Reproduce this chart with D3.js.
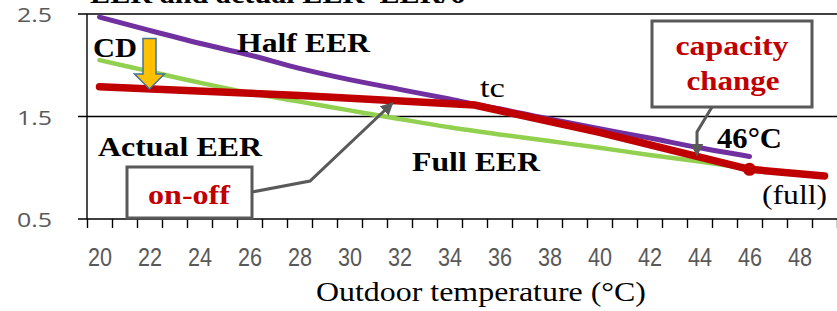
<!DOCTYPE html>
<html>
<head>
<meta charset="utf-8">
<script src="https://cdn.jsdelivr.net/npm/d3@7"></script>
<style>
  body { margin: 0; background: #fff; }
  svg text { font-family: "Liberation Serif", "DejaVu Serif", serif; }
</style>
</head>
<body>
<svg id="chart" width="837" height="311"></svg>
<script>
/* ---------------- data ---------------- */
var categories = d3.range(20, 50);                 // 20 .. 49 degC, one band each
var tickLabels = d3.range(20, 50, 2);              // 20, 22, ... 48
var yTicks = [0.5, 1.5, 2.5];

var halfTemp = [20, 22, 24, 26, 28, 30, 32, 34, 35, 36, 38, 40, 42, 44, 46];
var halfEER  = [2.47, 2.34, 2.215, 2.10, 1.97, 1.86, 1.765, 1.67, 1.62, 1.575, 1.475, 1.38, 1.29, 1.195, 1.11];

var fullTemp = [20, 22, 24, 26, 28, 30, 32, 34, 36, 38, 40, 42, 44, 46];
var fullEER  = [2.05, 1.94, 1.83, 1.73, 1.645, 1.56, 1.475, 1.395, 1.325, 1.26, 1.195, 1.125, 1.06, 0.99];

var actualTemp = [20, 28, 35, 40, 46, 49];
var actualEER  = [1.79, 1.705, 1.612, 1.345, 0.985, 0.92];

var fullPointTemp = 46;

/* ---------------- setup ---------------- */
var svg = d3.select("#chart"),
    plotL = 87, plotR = 837, plotT = 14, plotB = 219;

var x = d3.scaleLinear()
    .domain([categories[0] - 0.5, categories[categories.length - 1] + 0.5])
    .range([plotL, plotR]);
var y = d3.scaleLinear().domain([0.5, 2.5]).range([plotB, plotT]);

function zip(t, v) { return t.map(function (d, i) { return [d, v[i]]; }); }
var actualAt = d3.scaleLinear().domain(actualTemp).range(actualEER);

var grey = "#595959";

// gridlines (black, Excel style)
svg.append("g").selectAll("line").data(yTicks).enter().append("line")
    .attr("x1", plotL - 9).attr("x2", plotR)
    .attr("y1", function (d) { return y(d); }).attr("y2", function (d) { return y(d); })
    .attr("stroke", "#000").attr("stroke-width", 1.4);

// y axis line
svg.append("line").attr("x1", plotL).attr("x2", plotL)
    .attr("y1", plotT).attr("y2", plotB)
    .attr("stroke", "#000").attr("stroke-width", 1.4);

// y tick labels
svg.append("g").selectAll("text").data(yTicks).enter().append("text")
    .attr("x", 52).attr("y", function (d) { return y(d) + 8; })
    .attr("text-anchor", "end")
    .attr("fill", grey)
    .style("font-family", "'Open Sans', 'Liberation Sans', sans-serif")
    .style("font-size", "20px")
    .attr("textLength", 35).attr("lengthAdjust", "spacingAndGlyphs")
    .text(function (d) { return d3.format(".1f")(d); });

// x tick marks at band edges
var xTicks = d3.axisBottom(x)
    .tickValues(d3.range(categories[0] - 0.5, categories[categories.length - 1] + 1, 1))
    .tickFormat("").tickSize(9).tickSizeOuter(0);
var gx = svg.append("g").attr("transform", "translate(0," + plotB + ")").call(xTicks);
gx.select(".domain").remove();
gx.selectAll("line").attr("stroke", "#000").attr("stroke-width", 1.4);

// x tick labels every second category
var xLabels = d3.axisBottom(x).tickValues(tickLabels).tickSize(0).tickPadding(0);
var gl = svg.append("g").attr("transform", "translate(0," + plotB + ")").call(xLabels);
gl.select(".domain").remove();
gl.selectAll("text")
    .attr("y", 47).attr("dy", null)
    .attr("fill", grey)
    .style("font-family", "'Liberation Sans Narrow', 'Liberation Sans', sans-serif")
    .style("font-size", "25px")
    .attr("textLength", 24).attr("lengthAdjust", "spacingAndGlyphs");

// axis title
svg.append("text").attr("x", 481).attr("y", 301)
    .attr("text-anchor", "middle")
    .style("font-size", "27px")
    .attr("textLength", 330).attr("lengthAdjust", "spacingAndGlyphs")
    .text("Outdoor temperature (\u00B0C)");

// clipped title at top edge
svg.append("text").attr("x", 90).attr("y", 3)
    .style("font-size", "28px").style("font-weight", "bold")
    .attr("textLength", 375).attr("lengthAdjust", "spacingAndGlyphs")
    .text("EER and actual EER\u2013EER/6");

/* ---------------- lines ---------------- */
var smooth = d3.line().x(function (d) { return x(d[0]); }).y(function (d) { return y(d[1]); })
    .curve(d3.curveMonotoneX);
var straight = d3.line().x(function (d) { return x(d[0]); }).y(function (d) { return y(d[1]); });

svg.append("path").datum(zip(fullTemp, fullEER))
    .attr("d", smooth).attr("fill", "none")
    .attr("stroke", "#92D050").attr("stroke-width", 4.5).attr("stroke-linecap", "round");

svg.append("path").datum(zip(halfTemp, halfEER))
    .attr("d", smooth).attr("fill", "none")
    .attr("stroke", "#7030A0").attr("stroke-width", 5).attr("stroke-linecap", "round");

svg.append("path").datum(zip(actualTemp, actualEER))
    .attr("d", straight).attr("fill", "none")
    .attr("stroke", "#C00000").attr("stroke-width", 7.5)
    .attr("stroke-linecap", "round").attr("stroke-linejoin", "round");

svg.append("circle")
    .attr("cx", x(fullPointTemp)).attr("cy", y(actualAt(fullPointTemp)))
    .attr("r", 6.5).attr("fill", "#C00000");

/* ---------------- annotations ---------------- */
function label(txt, px, py, size, bold, len, color, anchor) {
    svg.append("text").attr("x", px).attr("y", py)
        .attr("text-anchor", anchor || "start")
        .attr("fill", color || "#000")
        .style("font-size", size + "px")
        .style("font-weight", bold ? "bold" : "normal")
        .attr("textLength", len).attr("lengthAdjust", "spacingAndGlyphs")
        .text(txt);
}
label("Half EER", 237, 52, 28, true, 133);
label("CD", 93, 57, 28, true, 44);
label("tc", 480, 97, 28, false, 25);
label("Actual EER", 98, 156, 28, true, 164);
label("Full EER", 412, 171, 28, true, 128);
label("46\u00B0C", 717, 148, 29, true, 65);
label("(full)", 762, 204, 28, false, 65);

// arrowhead marker
svg.append("defs").append("marker")
    .attr("id", "head").attr("markerUnits", "userSpaceOnUse")
    .attr("viewBox", "0 0 12 12").attr("refX", 10).attr("refY", 6)
    .attr("markerWidth", 13).attr("markerHeight", 13).attr("orient", "auto")
    .append("path").attr("d", "M0,0 L12,6 L0,12 Z").attr("fill", grey);

// capacity change callout
var capTip = [43.9, actualAt(43.9)];
svg.append("path")
    .attr("d", d3.line()([[712, 107], [x(capTip[0]), 132], [x(capTip[0]), y(capTip[1]) - 2]]))
    .attr("fill", "none").attr("stroke", grey).attr("stroke-width", 3)
    .attr("marker-end", "url(#head)");
svg.append("rect").attr("x", 652).attr("y", 21).attr("width", 160).attr("height", 86)
    .attr("fill", "#fff").attr("stroke", grey).attr("stroke-width", 3);
label("capacity", 732, 55, 28, true, 113, "#C00000", "middle");
label("change", 733, 90, 28, true, 93, "#C00000", "middle");

// on-off callout
var onTip = [31.7, actualAt(31.7)];
svg.append("path")
    .attr("d", d3.line()([[252, 192], [310, 181], [x(onTip[0]), y(onTip[1]) + 3]]))
    .attr("fill", "none").attr("stroke", grey).attr("stroke-width", 3)
    .attr("marker-end", "url(#head)");
svg.append("rect").attr("x", 127).attr("y", 167).attr("width", 125).attr("height", 51)
    .attr("fill", "#fff").attr("stroke", grey).attr("stroke-width", 3);
label("on-off", 189, 204, 28, true, 82, "#C00000", "middle");

// CD block arrow (orange) pointing down onto the actual line
var cdX = x(22), cdTop = y(2.26), cdTip = y(actualAt(22));
svg.append("path")
    .attr("d", d3.line()([
        [cdX - 6.5, cdTop], [cdX + 6.5, cdTop], [cdX + 6.5, cdTip - 15],
        [cdX + 15, cdTip - 15], [cdX, cdTip], [cdX - 15, cdTip - 15],
        [cdX - 6.5, cdTip - 15]]) + "Z")
    .attr("fill", "#FFC000").attr("stroke", "#41719C").attr("stroke-width", 1.5);
</script>
</body>
</html>
